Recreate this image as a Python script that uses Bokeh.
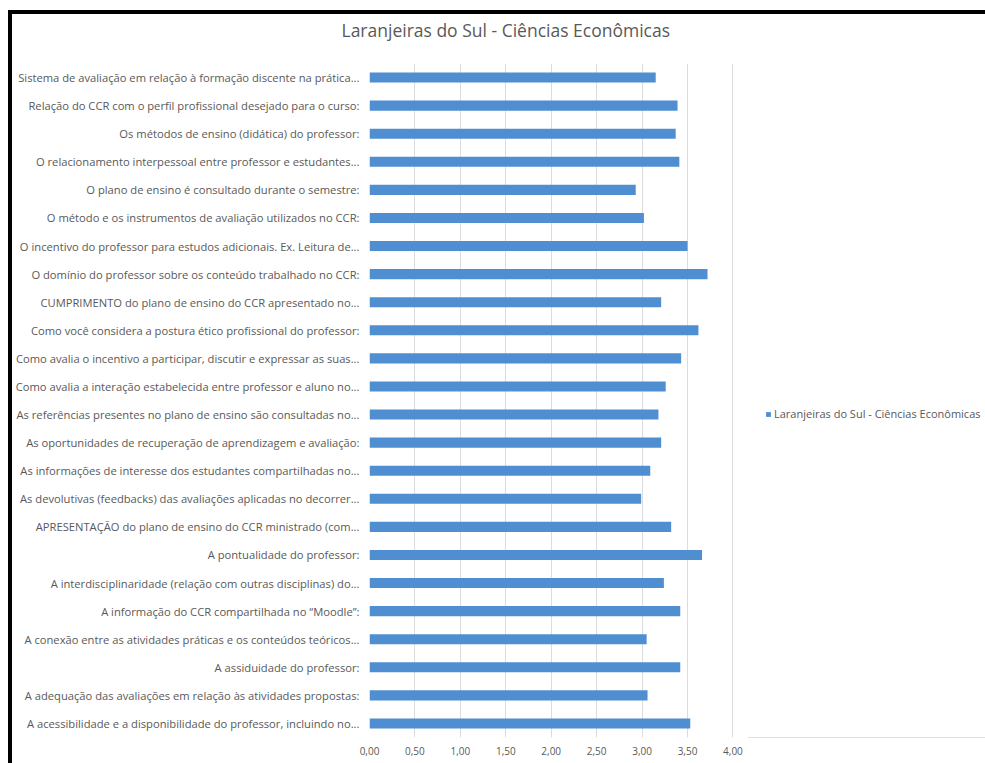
from bokeh.plotting import figure
from bokeh.models import ColumnDataSource, FactorRange, FixedTicker, Range1d, Legend, LegendItem, Title
from bokeh.layouts import row
from bokeh.embed import file_html
from bokeh.resources import INLINE

title_text = "Laranjeiras do Sul - Ciências Econômicas"
series_name = "Laranjeiras do Sul - Ciências Econômicas"

categories = [
    "Sistema de avaliação em relação à formação discente na prática...",
    "Relação do CCR com o perfil profissional desejado para o curso:",
    "Os métodos de ensino (didática) do professor:",
    "O relacionamento interpessoal entre professor e estudantes...",
    "O plano de ensino é consultado durante o semestre:",
    "O método e os instrumentos de avaliação utilizados no CCR:",
    "O incentivo do professor para estudos adicionais. Ex. Leitura de...",
    "O domínio do professor sobre os conteúdo trabalhado no CCR:",
    "CUMPRIMENTO do plano de ensino do CCR apresentado no...",
    "Como você considera a postura ético profissional do professor:",
    "Como avalia o incentivo a participar, discutir e expressar as suas...",
    "Como avalia a interação estabelecida entre professor e aluno no...",
    "As referências presentes no plano de ensino são consultadas no...",
    "As oportunidades de recuperação de aprendizagem e avaliação:",
    "As informações de interesse dos estudantes compartilhadas no...",
    "As devolutivas (feedbacks) das avaliações aplicadas no decorrer...",
    "APRESENTAÇÃO do plano de ensino do CCR ministrado (com...",
    "A pontualidade do professor:",
    "A interdisciplinaridade (relação com outras disciplinas) do...",
    "A informação do CCR compartilhada no “Moodle”:",
    "A conexão entre as atividades práticas e os conteúdos teóricos...",
    "A assiduidade do professor:",
    "A adequação das avaliações em relação às atividades propostas:",
    "A acessibilidade e a disponibilidade do professor, incluindo no...",
]

values = [3.15, 3.39, 3.37, 3.41, 2.93, 3.02, 3.50, 3.72, 3.21, 3.62, 3.43, 3.26,
          3.18, 3.21, 3.09, 2.99, 3.32, 3.66, 3.24, 3.42, 3.05, 3.42, 3.06, 3.53]

x_ticks = [0.0, 0.5, 1.0, 1.5, 2.0, 2.5, 3.0, 3.5, 4.0]
x_tick_labels = ["0,00", "0,50", "1,00", "1,50", "2,00", "2,50", "3,00", "3,50", "4,00"]

TEXT = "#595959"
BAR = "#4F8ED1"
FONT = "Open Sans"

src = ColumnDataSource(dict(cat=categories, val=values))
yr = FactorRange(factors=list(reversed(categories)), range_padding=0)

# main chart
p = figure(
    width=735, height=749,
    y_range=yr, x_range=Range1d(0, 4.006),
    output_backend="svg", toolbar_location=None,
    min_border_left=355, min_border_right=14, min_border_top=49, min_border_bottom=26,
)
p.hbar(y="cat", right="val", left=0, height=0.36, source=src,
       fill_color=BAR, line_color=None)

p.title.text = title_text
p.title.align = "left"
p.title.offset = -28
p.title.vertical_align = "bottom"
p.title.text_font = FONT
p.title.text_font_size = "17.5px"
p.title.text_font_style = "normal"
p.title.text_color = TEXT
p.title.standoff = 0

# spacer between title and plot area
p.add_layout(Title(text=" ", text_font_size="2px", standoff=18), "above")

p.outline_line_color = None
p.ygrid.grid_line_color = None
p.xgrid.grid_line_color = "#DCDCDC"
p.xgrid.ticker = FixedTicker(ticks=x_ticks)

p.xaxis.ticker = FixedTicker(ticks=x_ticks)
p.xaxis.major_label_overrides = {t: l for t, l in zip(x_ticks, x_tick_labels)}
p.xaxis.axis_line_color = None
p.xaxis.major_tick_line_color = None
p.xaxis.minor_tick_line_color = None
p.xaxis.major_label_standoff = 3
p.xaxis.major_label_text_font = FONT
p.xaxis.major_label_text_font_size = "10px"
p.xaxis.major_label_text_color = TEXT

p.yaxis.axis_line_color = None
p.yaxis.major_tick_line_color = None
p.yaxis.minor_tick_line_color = None
p.yaxis.major_label_standoff = 4
p.yaxis.major_label_text_font = FONT
p.yaxis.major_label_text_font_size = "11.2px"
p.yaxis.major_label_text_color = TEXT

# legend area: a zero-height off-screen proxy bar supplies the series swatch
lf = figure(
    width=238, height=749,
    y_range=Range1d(0, 1), x_range=Range1d(0, 1),
    x_axis_location=None, y_axis_location=None,
    output_backend="svg", toolbar_location=None,
    min_border_left=0, min_border_right=0, min_border_top=0, min_border_bottom=0,
)
proxy = ColumnDataSource(dict(y=[-10.0], right=[values[0]]))
lr = lf.hbar(y="y", right="right", left=0, height=0, source=proxy,
             fill_color=BAR, line_color=None)
lf.grid.grid_line_color = None
lf.outline_line_color = None

legend = Legend(items=[LegendItem(label=series_name, renderers=[lr])],
                location=(18, 316), orientation="vertical")
legend.border_line_color = None
legend.background_fill_alpha = 0
legend.padding = 0
legend.margin = 0
legend.glyph_width = 6
legend.glyph_height = 6
legend.label_standoff = 3
legend.label_text_font = FONT
legend.label_text_font_size = "11px"
legend.label_text_color = TEXT
lf.add_layout(legend)

layout = row(p, lf)
layout.styles = {"border-left": "4px solid black", "border-top": "4px solid black",
                 "margin-left": "8px", "margin-top": "10px", "background": "white"}

open("out.html", "w").write(file_html(layout, INLINE))
